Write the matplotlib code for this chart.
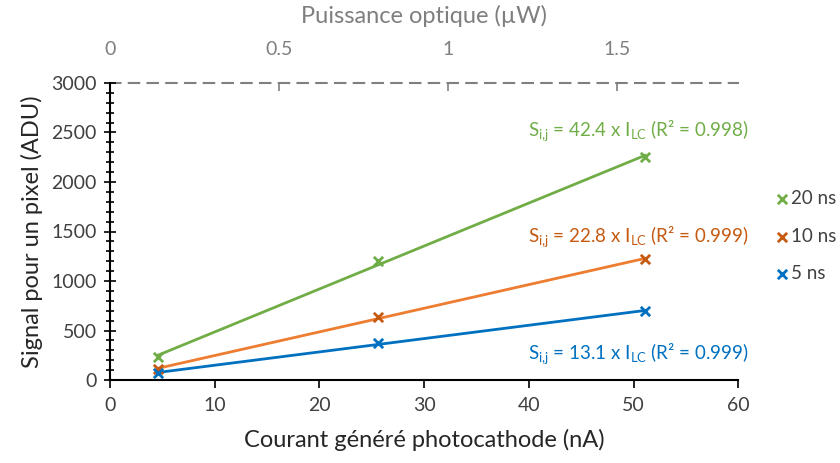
import numpy as np
import matplotlib
matplotlib.use('Agg')
import matplotlib.pyplot as plt
from matplotlib.ticker import MultipleLocator

plt.rcParams['font.family'] = ['Lato', 'DejaVu Sans']

# data
courant = [4.6, 25.6, 51.1]          # nA
sig_20 = [232, 1200, 2252]
sig_10 = [111, 636, 1222]
sig_5 = [70, 374, 697]
labels = ['20 ns', '10 ns', '5 ns']
eqs = [r'S$_{\mathregular{i{,}j}}$ = 42.4 x I$_{\mathregular{LC}}$ (R² = 0.998)',
       r'S$_{\mathregular{i{,}j}}$ = 22.8 x I$_{\mathregular{LC}}$ (R² = 0.999)',
       r'S$_{\mathregular{i{,}j}}$ = 13.1 x I$_{\mathregular{LC}}$ (R² = 0.999)']
nA_per_uW = 32.3

line_cols = ['#70AD47', '#ED7D31', '#0070C0']
mark_cols = ['#70AD47', '#C55A11', '#0070C0']
eq_pos = [(50.4, 2510), (50.4, 1440), (50.4, 255)]
grey = '#7F7F7F'

fig = plt.figure(figsize=(8.4, 4.63), dpi=100)
ax = fig.add_axes([0.131, 0.179, 0.748, 0.642])

x = np.array(courant)
handles = []
for ys, lab, lc, mc, eq, pos in zip([sig_20, sig_10, sig_5], labels, line_cols,
                                     mark_cols, eqs, eq_pos):
    ys = np.array(ys)
    p = np.polyfit(x, ys, 1)
    ax.plot(x, np.polyval(p, x), color=lc, lw=2, zorder=2)
    h = ax.scatter(x, ys, marker='x', color=mc, s=45, linewidths=2, zorder=3,
                   label=lab)
    handles.append(h)
    ax.text(pos[0], pos[1], eq, color=mc, fontsize=13.5, ha='center', va='center')

ax.set_xlim(0, 60)
ax.set_ylim(0, 3000)
ax.xaxis.set_major_locator(MultipleLocator(10))
ax.yaxis.set_major_locator(MultipleLocator(500))
ax.yaxis.set_minor_locator(MultipleLocator(100))
ax.tick_params(axis='y', which='major', direction='inout', length=9, width=1.2,
               labelsize=14, colors='black', labelcolor='#404040', pad=5)
ax.tick_params(axis='y', which='minor', direction='inout', length=6, width=1.2)
ax.tick_params(axis='x', which='major', direction='out', length=6, width=1.2,
               labelsize=14, labelcolor='#404040', pad=6)
ax.tick_params(top=False, right=False)
for s in ['right', 'top']:
    ax.spines[s].set_visible(False)
ax.spines['left'].set_linewidth(1.5)
ax.spines['bottom'].set_linewidth(1.5)

ax.set_xlabel('Courant généré photocathode (nA)', fontsize=17, color='#262626',
              labelpad=11)
ax.set_ylabel('Signal pour un pixel (ADU)', fontsize=17, color='#262626',
              labelpad=6)

top = ax.secondary_xaxis('top', functions=(lambda v: v / nA_per_uW,
                                           lambda v: v * nA_per_uW))
top.set_xticks([0, 0.5, 1, 1.5])
top.set_xticklabels(['0', '0.5', '1', '1.5'])
top.tick_params(direction='in', length=6, width=1.2, colors=grey,
                labelcolor=grey, labelsize=14, pad=18)
top.spines['top'].set_linestyle((0, (5, 4)))
top.spines['top'].set_color(grey)
top.spines['top'].set_linewidth(1.5)
top.set_xlabel('Puissance optique (µW)', fontsize=17, color=grey, labelpad=13)

fig.legend(handles=handles, loc='center left', bbox_to_anchor=(0.922, 0.49),
           frameon=False, fontsize=13.5, handletextpad=0.1, labelspacing=1.1,
           handlelength=0.8, borderpad=0, borderaxespad=0,
           labelcolor='#404040')

fig.savefig('out.png', dpi=100)
